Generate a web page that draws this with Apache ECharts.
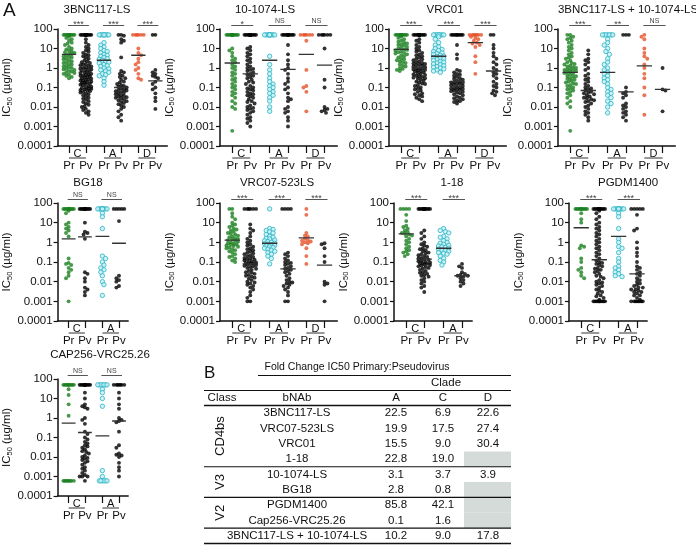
<!DOCTYPE html>
<html><head><meta charset="utf-8">
<script src="https://cdn.jsdelivr.net/npm/echarts@6/dist/echarts.min.js"></script>
<style>html,body{margin:0;padding:0;background:#fff}#c{width:696px;height:545px}</style>
</head><body><div id="c"></div>
<script>
const FONT = '"Liberation Sans", Arial, Helvetica, sans-serif';
const yTickLabels = ['100','10','1','0.1','0.01','0.001','0.0001'];
const groupLabels = ['Pr','Pv'];
const cladesCAD = ['C','A','D'];
const cladesCA = ['C','A'];
const panelTitles = ['3BNC117-LS','10-1074-LS','VRC01','3BNC117-LS + 10-1074-LS','BG18','VRC07-523LS','1-18','PGDM1400','CAP256-VRC25.26'];

// ---------- 3BNC117-LS ----------
const bnc_C_Pr = [50,50,50,50,50,50,50,50,50,50,50,50,50,50,40,35,30,25,20,18,15,12,10,9,8,7,6.5,6,5.5,5,4.5,4,3.8,3.5,3,2.8,2.5,2.2,2,1.8,1.6,1.5,1.3,1.2,1.1,1,0.9,0.85,0.8,0.7,0.65,0.6,0.55,0.5,0.45,0.4,0.35,0.3];
const bnc_C_Pv = [50,50,50,50,50,50,50,50,50,50,50,50,50,50,50,50,50,50,30,20,15,12,10,8,7,6,5,4.5,4,3.5,3,2.5,2.2,2,1.8,1.6,1.5,1.4,1.3,1.2,1.1,1,0.95,0.9,0.85,0.8,0.75,0.7,0.65,0.6,0.55,0.5,0.48,0.45,0.42,0.4,0.38,0.35,0.33,0.3,0.28,0.26,0.25,0.23,0.22,0.2,0.19,0.18,0.17,0.16,0.15,0.14,0.13,0.12,0.11,0.1,0.095,0.09,0.085,0.08,0.075,0.07,0.065,0.06,0.055,0.05,0.045,0.04,0.035,0.03,0.027,0.024,0.02,0.018,0.015,0.013,0.011,0.01,0.008,0.007,0.006,0.005,0.004];
const bnc_A_Pr = [50,50,50,50,50,50,50,50,20,15,12,10,8,7,6,5,4.5,4,3.5,3,2.8,2.5,2.2,2,1.8,1.5,1.3,1.2,1,0.9,0.8,0.7,0.6,0.5,0.45,0.4,0.3,0.2,0.13];
const bnc_A_Pv = [50,50,45,30,25,20,3.5,0.7,0.6,0.5,0.4,0.35,0.3,0.25,0.2,0.18,0.15,0.13,0.12,0.11,0.1,0.09,0.08,0.075,0.07,0.065,0.06,0.055,0.05,0.045,0.04,0.038,0.035,0.032,0.03,0.028,0.025,0.022,0.02,0.018,0.016,0.014,0.012,0.01,0.008,0.006,0.004,0.003,0.002];
const bnc_D_Pr = [50,50,50,50,50,50,10,6,4.5,3,2,1.5,1,0.8,0.5,0.3,0.25];
const bnc_D_Pv = [50,50,0.8,0.6,0.5,0.4,0.35,0.3,0.2,0.15,0.1,0.08,0.05,0.03,0.02,0.008];
const bnc_median = [5,0.8,2.5,0.1,4.5,0.22];
const bnc_sig = ['***','***','***'];

// ---------- 10-1074-LS ----------
const ten_C_Pr = [50,50,50,50,50,50,50,50,50,50,50,50,50,50,50,50,10,8,6,4,3,2.5,2,1.5,1.2,1,0.8,0.6,0.5,0.4,0.3,0.25,0.2,0.15,0.12,0.1,0.08,0.06,0.05,0.04,0.03,0.02,0.015,0.01,0.008,0.0006];
const ten_C_Pv = [50,50,50,50,50,50,50,50,50,50,50,50,50,50,50,50,50,50,50,50,12,10,8,6,5,4,3,2.5,2,1.5,1.2,1,0.9,0.8,0.7,0.6,0.5,0.45,0.4,0.35,0.3,0.25,0.2,0.18,0.15,0.12,0.1,0.09,0.08,0.07,0.06,0.05,0.045,0.04,0.035,0.03,0.025,0.02,0.018,0.015,0.012,0.01,0.009,0.008,0.007,0.006,0.005,0.004,0.003,0.0025,0.002,0.0015,0.001];
const ten_A_Pr = [50,50,50,50,50,50,50,50,50,50,4,1.5,0.8,0.5,0.3,0.2,0.15,0.12,0.1,0.08,0.06,0.05,0.04,0.03,0.02,0.01,0.006];
const ten_A_Pv = [50,50,50,50,50,50,50,50,50,50,50,50,15,5,2.5,1.5,1,0.8,0.5,0.3,0.2,0.15,0.1,0.08,0.05,0.03,0.025,0.02,0.01,0.008,0.006,0.005,0.003,0.002,0.001];
const ten_D_Pr = [50,50,50,50,50,50,25,0.8,0.12,0.1,0.06,0.006];
const ten_D_Pv = [50,50,50,50,50,50,10,0.25,0.1,0.01,0.008,0.007,0.006,0.005];
const ten_median = [1.8,0.5,2.5,0.85,5,1.4];
const ten_sig = ['*','NS','NS'];

// ---------- VRC01 ----------
const vrc_C_Pr = [50,50,50,50,50,50,50,50,50,50,50,50,50,50,40,35,30,25,22,20,18,16,15,14,12,11,10,9,8.5,8,7,6.5,6,5.5,5,4.5,4,3.5,3,2.8,2.5,2.2,2,1.8,1.5,1.3,1.2,1,0.9,0.8,0.7];
const vrc_C_Pv = [50,50,50,50,50,50,50,50,50,50,50,50,50,50,50,50,50,50,50,50,50,50,30,25,20,15,12,10,8,7,6,5,4.5,4,3.5,3,2.8,2.5,2.2,2,1.8,1.7,1.6,1.5,1.4,1.3,1.2,1.1,1,0.95,0.9,0.85,0.8,0.75,0.7,0.65,0.6,0.55,0.5,0.47,0.44,0.4,0.38,0.35,0.32,0.3,0.28,0.25,0.22,0.2,0.18,0.16,0.15,0.13,0.12,0.1,0.09,0.08,0.07,0.06,0.05,0.045,0.04,0.035,0.03,0.025,0.02];
const vrc_A_Pr = [50,50,50,50,50,50,50,50,40,30,20,15,12,10,9,8,7,6,5.5,5,4.5,4,3.8,3.5,3.2,3,2.8,2.5,2.2,2,1.8,1.6,1.5,1.3,1.2,1.1,1,0.9,0.8,0.7,0.6];
const vrc_A_Pv = [50,50,50,50,50,50,50,50,50,50,15,5,3,0.8,0.7,0.6,0.5,0.45,0.4,0.35,0.3,0.28,0.25,0.22,0.2,0.19,0.18,0.17,0.16,0.15,0.14,0.13,0.12,0.11,0.1,0.095,0.09,0.085,0.08,0.075,0.07,0.065,0.06,0.055,0.05,0.045,0.04,0.035,0.03,0.028,0.025,0.022,0.02,0.018,0.015];
const vrc_D_Pr = [50,50,50,50,50,50,50,40,35,30,25,20,18,15,12,4,2,0.5];
const vrc_D_Pv = [50,50,15,10,6,4,3,2,1.5,1,0.8,0.6,0.5,0.4,0.3,0.2,0.15,0.12,0.1,0.07,0.06,0.05,0.04];
const vrc_median = [9,1,4,0.2,20,0.7];
const vrc_sig = ['***','***','***'];

// ---------- 3BNC117-LS + 10-1074-LS ----------
const combo_C_Pr = [50,50,40,35,30,25,20,15,12,10,8,6,5,4,3.5,3,2.5,2,1.8,1.6,1.5,1.3,1.2,1.1,1,0.9,0.85,0.8,0.75,0.7,0.65,0.6,0.55,0.5,0.45,0.4,0.38,0.35,0.3,0.28,0.25,0.22,0.2,0.18,0.16,0.15,0.13,0.12,0.1,0.09,0.08,0.07,0.06,0.05,0.04,0.03,0.02,0.015,0.01,0.0006];
const combo_C_Pv = [8,5,3,2.5,2,1.5,1,0.8,0.5,0.4,0.3,0.25,0.2,0.15,0.12,0.1,0.09,0.08,0.07,0.06,0.055,0.05,0.045,0.04,0.035,0.03,0.028,0.025,0.022,0.02,0.018,0.015,0.012,0.01,0.008,0.006,0.005,0.004,0.003,0.002];
const combo_A_Pr = [50,50,50,50,50,50,50,30,20,15,10,7,5,3,2,1.5,1,0.8,0.6,0.5,0.4,0.3,0.25,0.2,0.15,0.1,0.08,0.06,0.05,0.04,0.03,0.02,0.015,0.01,0.005];
const combo_A_Pv = [50,50,50,0.1,0.06,0.05,0.04,0.03,0.015,0.012,0.01,0.008,0.006,0.005,0.004,0.003,0.002];
const combo_D_Pr = [50,40,30,10,6,4,3,1.5,1,0.5,0.3,0.1,0.04,0.004];
const combo_D_Pv = [1,0.08,0.07,0.006];
const combo_median = [0.6,0.07,0.6,0.06,1.3,0.08];
const combo_sig = ['***','**','NS'];

// ---------- BG18 ----------
const bg_C_Pr = [50,50,50,50,50,50,50,50,50,50,50,50,40,30,10,8,6,5,4,3,2,0.15,0.09,0.08,0.07,0.05,0.04,0.03,0.02,0.015,0.001];
const bg_C_Pv = [50,50,50,50,50,50,50,50,50,50,50,50,10,3.5,3,2.5,1.5,0.03,0.025,0.015,0.01,0.005,0.004,0.003,0.002];
const bg_A_Pr = [50,50,50,50,50,50,50,50,50,50,30,20,5,0.2,0.15,0.1,0.07,0.05,0.04,0.03,0.02,0.01,0.007,0.002];
const bg_A_Pv = [50,50,50,50,50,12,0.02,0.015,0.012,0.01,0.006,0.005];
const bg_median = [1.5,1.9,2,0.9];
const bg_sig = ['NS','NS'];

// ---------- VRC07-523LS ----------
const v07_C_Pr = [50,50,30,20,15,10,8,7,6,5,4.5,4,3.5,3,2.8,2.5,2.2,2,1.8,1.6,1.5,1.4,1.3,1.2,1.1,1,0.9,0.85,0.8,0.75,0.7,0.65,0.6,0.55,0.5,0.45,0.4,0.35,0.3,0.25,0.2,0.18,0.15,0.12,0.1];
const v07_C_Pv = [50,50,50,50,50,50,8,5,4,3,2,1.5,1.2,1,0.8,0.7,0.6,0.5,0.45,0.4,0.35,0.3,0.28,0.25,0.22,0.2,0.18,0.16,0.15,0.14,0.13,0.12,0.11,0.1,0.095,0.09,0.085,0.08,0.075,0.07,0.065,0.06,0.055,0.05,0.045,0.04,0.035,0.03,0.028,0.025,0.022,0.02,0.018,0.016,0.014,0.012,0.01,0.009,0.008,0.007,0.006,0.005,0.004,0.003,0.002,0.0015,0.001,0.001];
const v07_A_Pr = [50,5,4.5,4,3.5,3,2.5,2,1.8,1.6,1.5,1.3,1.2,1.1,1,0.9,0.85,0.8,0.75,0.7,0.65,0.6,0.55,0.5,0.45,0.4,0.35,0.3,0.25,0.2,0.15,0.08];
const v07_A_Pv = [50,50,50,50,0.3,0.25,0.2,0.15,0.12,0.1,0.09,0.08,0.07,0.06,0.05,0.045,0.04,0.035,0.03,0.025,0.02,0.015,0.012,0.01,0.009,0.008,0.007,0.006,0.005,0.004,0.003,0.002,0.001,0.001];
const v07_D_Pr = [50,25,3,2.2,2,1.5,1.3,1.2,1.1,1,0.9,0.8,0.5,0.2,0.08];
const v07_D_Pv = [0.9,0.8,0.5,0.2,0.1,0.01,0.008,0.007,0.001];
const v07_median = [1.3,0.08,0.9,0.045,1.7,0.07];
const v07_sig = ['***','***','***'];

// ---------- 1-18 ----------
const o18_C_Pr = [50,50,50,50,25,12,7,6,5,4,3.5,3,2.8,2.5,2.2,2,1.5,1.2,1,0.8,0.6,0.5,0.4,0.35,0.3,0.25,0.2];
const o18_C_Pv = [50,50,50,50,50,50,50,50,50,50,50,50,50,50,4,3,2,1.5,1,0.8,0.7,0.6,0.5,0.45,0.4,0.35,0.3,0.28,0.25,0.22,0.2,0.18,0.16,0.15,0.14,0.13,0.12,0.11,0.1,0.095,0.09,0.085,0.08,0.075,0.07,0.065,0.06,0.055,0.05,0.045,0.04,0.035,0.03,0.028,0.025,0.022,0.02,0.018,0.015,0.012,0.01,0.008,0.006,0.005,0.003];
const o18_A_Pr = [5,4,3.5,3,2,1.8,1.5,1.2,1,0.9,0.8,0.7,0.65,0.6,0.55,0.5,0.45,0.4,0.38,0.35,0.3,0.28,0.25,0.2,0.15,0.12,0.1,0.07];
const o18_A_Pv = [0.08,0.06,0.05,0.03,0.025,0.022,0.02,0.02,0.018,0.015,0.012,0.01,0.008,0.006];
const o18_median = [2.7,0.14,0.5,0.02];
const o18_sig = ['***','***'];

// ---------- PGDM1400 ----------
const pg_C_Pr = [50,50,50,50,50,50,50,50,50,50,30,15,10,0.7,0.6,0.5,0.15,0.1,0.05,0.04,0.03,0.02,0.015];
const pg_C_Pv = [50,50,50,50,50,50,50,50,50,50,50,50,50,50,50,50,50,50,50,50,40,30,20,15,10,8,6,5,4,3,2.5,2,1.5,1.2,1,0.8,0.6,0.5,0.4,0.3,0.25,0.2,0.15,0.12,0.1,0.09,0.08,0.07,0.06,0.05,0.045,0.04,0.035,0.03,0.025,0.02,0.018,0.015,0.012,0.01,0.009,0.008,0.007,0.006,0.005,0.004,0.0035,0.003,0.0025,0.002,0.0018,0.0015,0.0012,0.001,0.001,0.001,0.001,0.001,0.001,0.001,0.001,0.001,0.001];
const pg_A_Pr = [50,50,50,50,50,50,50,50,50,50,30,20,5,1.5,1,0.6,0.5,0.3,0.15,0.1,0.06,0.05,0.04,0.03,0.025,0.02,0.018];
const pg_A_Pv = [50,50,50,50,50,25,5,4,1,0.5,0.3,0.2,0.1,0.06,0.05,0.04,0.03,0.025,0.02,0.015,0.012,0.01,0.008,0.007,0.006,0.005,0.005,0.004,0.004,0.0035,0.003,0.003,0.0025,0.002,0.002,0.0015,0.0012,0.001,0.001,0.001,0.001,0.001,0.001,0.001,0.001];
const pg_median = [5.5,0.13,2,0.025];
const pg_sig = ['***','***'];

// ---------- CAP256-VRC25.26 ----------
const cap_C_Pr = [50,50,50,50,50,50,50,50,50,50,30,15,5,1.3,0.0006,0.0006,0.0006,0.0006,0.0006,0.0006,0.0006,0.0006];
const cap_C_Pv = [50,50,50,50,50,50,50,50,50,50,50,50,50,50,20,10,5,4,3.5,3,1,0.8,0.5,0.2,0.15,0.1,0.08,0.06,0.05,0.04,0.035,0.03,0.025,0.02,0.018,0.015,0.012,0.01,0.009,0.008,0.007,0.006,0.005,0.004,0.003,0.0025,0.002,0.0015,0.0012,0.001,0.001,0.001,0.0006];
const cap_A_Pr = [50,50,50,50,50,50,50,30,20,10,4,0.002,0.001,0.0006,0.0006,0.0006,0.0006,0.0006,0.0006];
const cap_A_Pv = [50,50,50,50,50,50,50,20,10,5,3,1,0.8,0.7,0.6,0.2,0.04,0.03,0.015,0.013,0.012,0.01,0.005,0.003,0.002,0.001];
const cap_median = [0.55,0.18,0.12,0.7];
const cap_sig = ['NS','NS'];

// ---------- Table B ----------
const tableTitle = 'Fold Change IC50 Primary:Pseudovirus';
const tableHeader = ['Class','bNAb','A','C','D'];
const tableClasses = ['CD4bs','V3','V2'];
const tableClassRows = [[0,3],[4,5],[6,7]];
const tableAbs = ['3BNC117-LS','VRC07-523LS','VRC01','1-18','10-1074-LS','BG18','PGDM1400','Cap256-VRC25.26','3BNC117-LS + 10-1074-LS'];
const foldA = [22.5,19.9,15.5,22.8,3.1,2.8,85.8,0.1,10.2];
const foldC = [6.9,17.5,9.0,19.0,3.7,0.8,42.1,1.6,9.0];
const foldD = [22.6,27.4,30.4,null,3.9,null,null,null,17.8];

// ---------- layout ----------
const gridLeft = [50,220,389,558,50,220,394,569,50];
const gridTop = [29,29,29,29,203,203,203,203,379];
const gridH = [117,117,117,117,118,118,118,118,117];
const titleX = [97,265,445,628,88,277,452,628,100];
const titleY = [10,10,10,10,183,183,183,183,355];
const UNIT_PX = 17;
const cladeCenters = [[0.72,1.78],[2.92,4.0],[5.08,6.15]];
const prColors = {C:'#1a7f1f', A:'#bfeef3', D:'#e5532a'};

const panels = [
  {groups:[[bnc_C_Pr,bnc_C_Pv],[bnc_A_Pr,bnc_A_Pv],[bnc_D_Pr,bnc_D_Pv]], clades:cladesCAD, med:bnc_median, sig:bnc_sig},
  {groups:[[ten_C_Pr,ten_C_Pv],[ten_A_Pr,ten_A_Pv],[ten_D_Pr,ten_D_Pv]], clades:cladesCAD, med:ten_median, sig:ten_sig},
  {groups:[[vrc_C_Pr,vrc_C_Pv],[vrc_A_Pr,vrc_A_Pv],[vrc_D_Pr,vrc_D_Pv]], clades:cladesCAD, med:vrc_median, sig:vrc_sig},
  {groups:[[combo_C_Pr,combo_C_Pv],[combo_A_Pr,combo_A_Pv],[combo_D_Pr,combo_D_Pv]], clades:cladesCAD, med:combo_median, sig:combo_sig},
  {groups:[[bg_C_Pr,bg_C_Pv],[bg_A_Pr,bg_A_Pv]], clades:cladesCA, med:bg_median, sig:bg_sig},
  {groups:[[v07_C_Pr,v07_C_Pv],[v07_A_Pr,v07_A_Pv],[v07_D_Pr,v07_D_Pv]], clades:cladesCAD, med:v07_median, sig:v07_sig},
  {groups:[[o18_C_Pr,o18_C_Pv],[o18_A_Pr,o18_A_Pv]], clades:cladesCA, med:o18_median, sig:o18_sig},
  {groups:[[pg_C_Pr,pg_C_Pv],[pg_A_Pr,pg_A_Pv]], clades:cladesCA, med:pg_median, sig:pg_sig},
  {groups:[[cap_C_Pr,cap_C_Pv],[cap_A_Pr,cap_A_Pv]], clades:cladesCA, med:cap_median, sig:cap_sig}
];

// deterministic beeswarm placement (pixel space -> data units)
function swarm(vals, cx, pxU, pxD, d, maxHalf) {
  const sorted = vals.slice().sort((a,b)=>b-a);
  const placed = [], res = [];
  const step = d/2, nSteps = Math.floor(maxHalf/step);
  sorted.forEach((v, idx) => {
    const y = Math.log10(v)*pxD;
    let bestX = 0, bestScore = -1, found = false;
    for (let k=0; k<=nSteps && !found; k++) {
      const s = (idx%2===0) ? 1 : -1;
      const cands = k===0 ? [0] : [s*k*step, -s*k*step];
      for (const x of cands) {
        let minD = Infinity;
        for (const q of placed) { const dd = Math.hypot(x-q[0], y-q[1]); if (dd<minD) minD=dd; }
        if (minD >= d) { bestX = x; found = true; break; }
        if (minD > bestScore) { bestScore = minD; bestX = x; }
      }
    }
    placed.push([bestX, y]);
    res.push([cx + bestX/pxU, v]);
  });
  return res;
}

const grids=[], xAxes=[], yAxes=[], series=[];
panels.forEach((p, i) => {
  const nC = p.groups.length;
  const xmax = nC===3 ? 6.9 : 4.6;
  grids.push({left:gridLeft[i], top:gridTop[i], width:xmax*UNIT_PX, height:gridH[i]});
  const centers = [];
  for (let c=0;c<nC;c++) centers.push(cladeCenters[c][0], cladeCenters[c][1]);
  xAxes.push({type:'value', gridIndex:i, min:0, max:xmax,
    axisLine:{show:true, onZero:false, lineStyle:{color:'#111', width:1.5}},
    axisTick:{show:true, customValues:centers, length:7, lineStyle:{color:'#111', width:1.2}},
    axisLabel:{show:true, customValues:centers, margin:14, fontSize:11.5, fontFamily:FONT, color:'#111',
      formatter:(v)=>{let bi=0,bd=1e9; centers.forEach((c,j)=>{const dd=Math.abs(c-v); if(dd<bd){bd=dd;bi=j;}}); return groupLabels[bi%2];}},
    splitLine:{show:false}});
  yAxes.push({type:'log', logBase:10, gridIndex:i, min:0.0001, max:100,
    axisLine:{show:true, lineStyle:{color:'#111', width:1.5}},
    axisTick:{show:true, length:4, lineStyle:{color:'#111', width:1.2}},
    axisLabel:{fontSize:11.5, fontFamily:FONT, color:'#111', margin:5,
      formatter:(v)=>yTickLabels[Math.round(2-Math.log10(v))]},
    splitLine:{show:false}, minorTick:{show:false},
    name:'IC{s|50} (µg/ml)', nameLocation:'middle', nameGap:37, nameRotate:90,
    nameTextStyle:{fontSize:11.5, fontFamily:FONT, color:'#111', rich:{s:{fontSize:7.5, fontFamily:FONT, color:'#111', padding:[5,0,0,0]}}}});
  const pxD = gridH[i]/6;
  p.groups.forEach((pair, ci) => {
    const cl = p.clades[ci];
    pair.forEach((vals, gi) => {
      const cx = cladeCenters[ci][gi];
      const isPr = gi===0;
      const isA = isPr && cl==='A';
      series.push({type:'scatter', xAxisIndex:i, yAxisIndex:i, silent:true,
        data: swarm(vals, cx, UNIT_PX, pxD, isA?3.4:2.9, 6),
        symbol:'circle', symbolSize: isA?4.4:(isPr?3.9:3.9),
        itemStyle: isPr ? (isA ? {color:'#c4f0f5', borderColor:'#2ab4c4', borderWidth:1} : {color:prColors[cl]}) : {color:'#000'}});
      const m = p.med[ci*2+gi];
      series.push({type:'line', xAxisIndex:i, yAxisIndex:i, silent:true, z:5,
        data:[[cx-0.45,m],[cx+0.45,m]], symbol:'none', lineStyle:{color:'#333', width:1.3}});
    });
  });
});

const chart = echarts.init(document.getElementById('c'), null, {renderer:'canvas'});
chart.setOption({animation:false, backgroundColor:'#fff', grid:grids, xAxis:xAxes, yAxis:yAxes, series:series});

function txt(x, y, text, size, align, valign, extra, fill) {
  return Object.assign({type:'text', x:x, y:y, silent:true, style:{text:text, fontSize:size, fontFamily:FONT, fill:fill||'#111',
    align:align, verticalAlign:valign, textAlign:align, textVerticalAlign:valign}}, extra||{});
}
function ln(x1,y1,x2,y2,w,c){ return {type:'line', silent:true, shape:{x1:x1,y1:y1,x2:x2,y2:y2}, style:{stroke:c||'#111', lineWidth:w||1}}; }

const g = [];
g.push(txt(3, 1, 'A', 19, 'left', 'top'));
panels.forEach((p, i) => {
  g.push(txt(titleX[i], titleY[i], panelTitles[i], 11.5, 'center', 'middle'));
  p.clades.forEach((cl, ci) => {
    const [a,b] = cladeCenters[ci];
    const pa = chart.convertToPixel({gridIndex:i},[a,1])[0];
    const pb = chart.convertToPixel({gridIndex:i},[b,1])[0];
    const pTop = chart.convertToPixel({gridIndex:i},[a,100])[1];
    const pBot = chart.convertToPixel({gridIndex:i},[a,0.0001])[1];
    g.push(txt((pa+pb)/2, pBot+2.5, cl, 11, 'center', 'top'));
    g.push(ln(pa, pBot+12, pb, pBot+12, 1, '#333'));
    const ly = pTop-3.5;
    g.push(ln(pa-1, ly, pb+3, ly, 1, '#555'));
    const s = p.sig[ci];
    g.push(txt((pa+pb)/2+1, s==='NS'?ly-0.5:ly+3.5, s, s==='NS'?7:9, 'center', 'bottom', null, '#444'));
  });
});

// Table B
const tL = 204, tR = 511, colBnab = 297, colA = 396, colC = 443, colD = 488, grayL = 464;
const rowY0 = 413, rowStep = 15.35;
const rowY = tableAbs.map((_, r) => rowY0 + r*rowStep);
g.push(txt(204, 365, 'B', 17, 'left', 'top'));
foldD.forEach((v, r) => { if (v === null) g.push({type:'rect', silent:true, shape:{x:grayL, y:rowY[r]-rowStep/2, width:tR-grayL, height:rowStep}, style:{fill:'#d5dbd9'}}); });
g.push(txt(357, 367, tableTitle, 10.5, 'center', 'middle'));
g.push(ln(258, 375.5, tR, 375.5, 1.2));
g.push(txt(446, 383, 'Clade', 11.5, 'center', 'middle'));
g.push(ln(tL, 390.5, tR, 390.5, 1.2));
const headerX = [222, colBnab, colA, colC, colD];
tableHeader.forEach((h, k) => g.push(txt(headerX[k], 398, h, 11.5, 'center', 'middle')));
g.push(ln(tL, 405.5, tR, 405.5, 1.5));
tableAbs.forEach((ab, r) => {
  g.push(txt(colBnab, rowY[r], ab, 11.5, 'center', 'middle'));
  g.push(txt(colA, rowY[r], foldA[r].toFixed(1), 11.5, 'center', 'middle'));
  g.push(txt(colC, rowY[r], foldC[r].toFixed(1), 11.5, 'center', 'middle'));
  if (foldD[r] !== null) g.push(txt(colD, rowY[r], foldD[r].toFixed(1), 11.5, 'center', 'middle'));
});
tableClassRows.forEach((rr, k) => {
  const yb = rowY[rr[1]] + rowStep/2;
  g.push(ln(tL, yb, tR, yb, 1.2));
  const yc = (rowY[rr[0]] + rowY[rr[1]])/2;
  g.push(txt(220, yc, tableClasses[k], 13, 'center', 'middle', {rotation:Math.PI/2}));
});
g.push(ln(tL, rowY[rowY.length-1] + rowStep/2, tR, rowY[rowY.length-1] + rowStep/2, 1.5));

chart.setOption({graphic:{elements:g}});
</script></body></html>
